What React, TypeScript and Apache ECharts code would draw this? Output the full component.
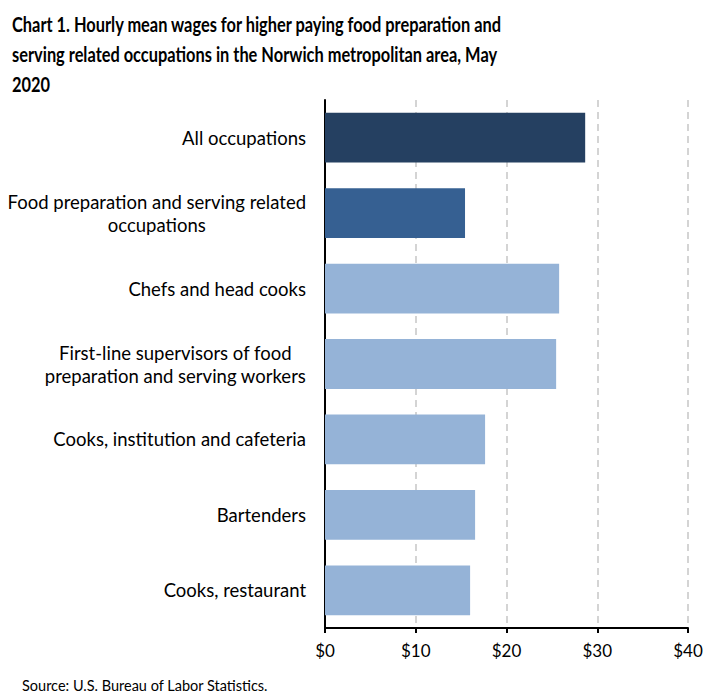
import React, { useEffect, useRef } from "react";
import * as echarts from "echarts";

const categories = [
  "All occupations",
  "Food preparation and serving related\noccupations",
  "Chefs and head cooks",
  "First-line supervisors of food\npreparation and serving workers",
  "Cooks, institution and cafeteria",
  "Bartenders",
  "Cooks, restaurant",
];
const wages = [28.67, 15.43, 25.8, 25.47, 17.64, 16.54, 15.99];
const barColors = ["#254061", "#366092", "#95B3D7", "#95B3D7", "#95B3D7", "#95B3D7", "#95B3D7"];
const xTicks = [0, 10, 20, 30, 40];

const titleLines = [
  "Chart 1. Hourly mean wages for higher paying food preparation and",
  "serving related occupations in the Norwich metropolitan area, May",
  "2020",
];
const sourceText = "Source: U.S. Bureau of Labor Statistics.";

export default function App() {
  const ref = useRef<HTMLDivElement>(null);
  useEffect(() => {
    const chart = echarts.init(ref.current!, null, { renderer: "svg" });
    const cats = [...categories].reverse();
    const vals = [...wages].reverse();
    const cols = [...barColors].reverse();
    chart.setOption({
      animation: false,
      backgroundColor: "#ffffff",
      graphic: [
        {
          type: "text",
          x: 12,
          y: 9,
          scaleX: 0.8,
          style: {
            text: titleLines.join("\n"),
            font: "bold 20.5px Lato",
            lineHeight: 30,
            fill: "#000000",
          },
        },
        {
          type: "text",
          x: 22,
          y: 678,
          style: {
            text: sourceText,
            font: "14.5px Lato",
            fill: "#000000",
          },
        },
      ],
      grid: { left: 325, right: 32, top: 100, bottom: 69, containLabel: false },
      xAxis: {
        type: "value",
        min: 0,
        max: 40,
        interval: 10,
        axisLine: { show: true, lineStyle: { color: "#000000", width: 2 } },
        axisTick: { show: true, length: 5, lineStyle: { color: "#000000", width: 2 } },
        axisLabel: {
          formatter: (v: number) => (xTicks.includes(v) ? "$" + v : ""),
          fontFamily: "Lato",
          fontSize: 17,
          color: "#000000",
          margin: 14,
        },
        splitLine: {
          show: true,
          lineStyle: { color: "#D4D4D4", width: 2, type: [7, 5] },
        },
      },
      yAxis: {
        type: "category",
        data: cats,
        axisLine: { show: true, lineStyle: { color: "#000000", width: 2 } },
        axisTick: { show: false },
        axisLabel: {
          color: "#000000",
          margin: 19,
          align: "right",
          formatter: (v: string) =>
            v
              .split("\n")
              .map((l) => "{c|" + l + "}")
              .join("\n"),
          rich: {
            c: {
              fontFamily: "Lato",
              fontSize: 18.5,
              lineHeight: 23,
              color: "#000000",
              align: "center",
            },
          },
        },
      },
      series: [
        {
          type: "bar",
          data: vals.map((v, i) => ({ value: v, itemStyle: { color: cols[i] } })),
          barCategoryGap: "34%",
          silent: true,
        },
      ],
    });
    return () => chart.dispose();
  }, []);
  return (
    <div
      ref={ref}
      style={{ position: "absolute", left: 0, top: 0, width: 720, height: 697 }}
    />
  );
}
